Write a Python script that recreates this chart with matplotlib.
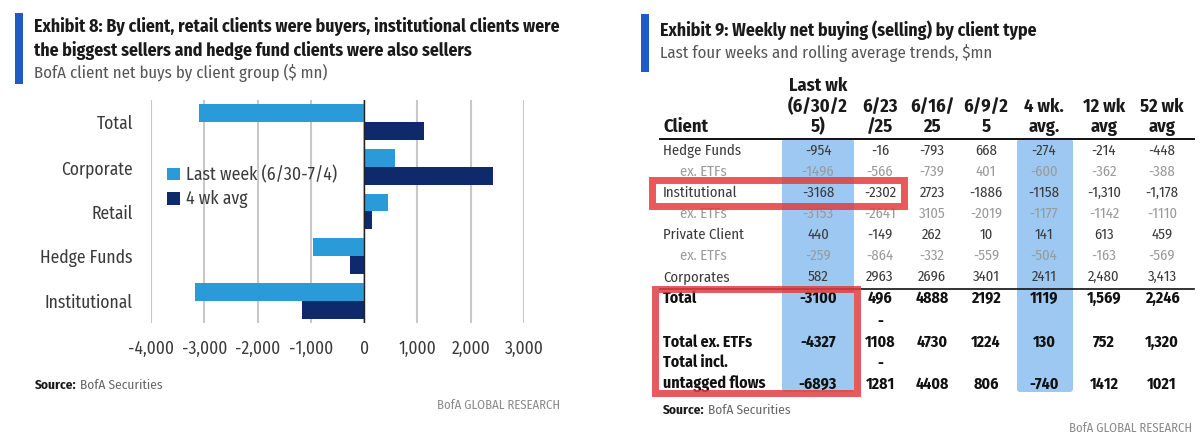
import matplotlib
matplotlib.use('Agg')
import matplotlib.pyplot as plt
from matplotlib.patches import Rectangle, FancyBboxPatch

plt.rcParams['font.family'] = ['Fira Sans Condensed', 'Roboto Condensed', 'DejaVu Sans']

# ---- left chart data ----
groups = ['Total', 'Corporate', 'Retail', 'Hedge Funds', 'Institutional']
last_week = [-3100, 582, 440, -954, -3168]
four_wk_avg = [1119, 2411, 141, -274, -1158]
x_ticks = [-4000, -3000, -2000, -1000, 0, 1000, 2000, 3000]

# ---- right table data ----
col_headers = ['Last wk\n(6/30/2\n5)', '6/23\n/25', '6/16/\n25', '6/9/2\n5', '4 wk.\navg.', '12 wk\navg', '52 wk\navg']
row_labels = ['Hedge Funds', 'ex. ETFs', 'Institutional', 'ex. ETFs', 'Private Client', 'ex. ETFs', 'Corporates']
hedge = ['-954', '-16', '-793', '668', '-274', '-214', '-448']
hedge_ex = ['-1496', '-566', '-739', '401', '-600', '-362', '-388']
inst = ['-3168', '-2302', '2723', '-1886', '-1158', '-1,310', '-1,178']
inst_ex = ['-3153', '-2641', '3105', '-2019', '-1177', '-1142', '-1110']
private = ['440', '-149', '262', '10', '141', '613', '459']
private_ex = ['-259', '-864', '-332', '-559', '-504', '-163', '-569']
corp = ['582', '2963', '2696', '3401', '2411', '2,480', '3,413']
total_labels = ['Total', 'Total ex. ETFs', 'Total incl.\nuntagged flows']
total = ['-3100', '496', '4888', '2192', '1119', '1,569', '2,246']
total_ex = ['-4327', '-1108', '4730', '1224', '130', '752', '1,320']
total_untagged = ['-6893', '-1281', '4408', '806', '-740', '1412', '1021']

LIGHT = '#2a9bd8'
NAVY = '#0e2a6b'
ACCENT = '#1f5bc6'
HILITE = '#9dc8f2'
RED = '#e23c40'
DARK = '#1a1a1a'
TXT = '#3a3a3a'

W, H = 1200, 441
fig = plt.figure(figsize=(W / 100, H / 100), dpi=100)
renderer = fig.canvas.get_renderer()


def size_for(s, width, weight='normal'):
    t = fig.text(0, 0, s, fontsize=10, fontweight=weight)
    w = t.get_window_extent(renderer).width
    t.remove()
    return 10 * width / w


# font sizes fitted to the widths measured on the reference
f_title = size_for('Exhibit 8: By client, retail clients were buyers, institutional clients were', 526, 'bold')
f_sub = size_for('BofA client net buys by client group ($ mn)', 292)
f_ytick = size_for('Institutional', 88)
f_xtick = size_for('-4,000', 46)
f_leg = size_for('Last week (6/30-7/4)', 151)
f_src = size_for('Source: BofA Securities', 126)
f_body = size_for('Institutional', 74)
f_head = size_for('(6/30/2', 60, 'bold')
f_tot = size_for('Total ex. ETFs', 89, 'bold')


def source(x, y):
    t = cv.text(x, y, 'Source:', fontsize=f_src, fontweight='bold', color=DARK, va='center')
    w = t.get_window_extent(renderer).width
    cv.text(x + w + 3, y, 'BofA Securities', fontsize=f_src, color='#666666', va='center')


# overlay canvas in pixel coordinates for titles / table
cv = fig.add_axes([0, 0, 1, 1])
cv.set_xlim(0, W)
cv.set_ylim(H, 0)
cv.axis('off')

# ---------- left panel ----------
cv.add_patch(Rectangle((15, 13), 8, 71, color=ACCENT, lw=0))
cv.text(34, 27, 'Exhibit 8: By client, retail clients were buyers, institutional clients were',
        fontsize=f_title, fontweight='bold', color=DARK, va='center')
cv.text(34, 50, 'the biggest sellers and hedge fund clients were also sellers',
        fontsize=f_title, fontweight='bold', color=DARK, va='center')
cv.text(34, 73, 'BofA client net buys by client group ($ mn)', fontsize=f_sub, color='#555555', va='center')

ax = fig.add_axes([151 / W, 1 - 323 / H, 373 / W, 223 / H])
y = list(range(len(groups)))
ax.barh([v - 0.2 for v in y], last_week, height=0.4, color=LIGHT, label='Last week (6/30-7/4)', zorder=3)
ax.barh([v + 0.2 for v in y], four_wk_avg, height=0.4, color=NAVY, label='4 wk avg', zorder=3)
ax.set_xlim(-4000, 3000)
ax.set_ylim(len(groups) - 0.5, -0.5)
ax.set_xticks(x_ticks)
ax.set_xticklabels([f'{t:,}' for t in x_ticks], fontsize=f_xtick, color=TXT)
ax.set_yticks(y)
ax.set_yticklabels(groups, fontsize=f_ytick, color=TXT)
ax.tick_params(length=0, pad=13, axis='y')
ax.tick_params(length=0, pad=12, axis='x')
ax.grid(axis='x', color='#c8c8c8', lw=1.5, zorder=0)
ax.axvline(0, color='#222222', lw=1, zorder=4)
for s in ax.spines.values():
    s.set_visible(False)
ax.patch.set_alpha(0)
leg_px = f_leg * 100 / 72
ax.legend(loc='upper left', bbox_to_anchor=(163 / W, 1 - 162 / H), bbox_transform=fig.transFigure,
          frameon=False, fontsize=f_leg, handlelength=0.75, handleheight=0.75, handletextpad=0.35,
          labelspacing=(24 - leg_px) / leg_px, labelcolor=TXT, borderaxespad=0, borderpad=0.2)

source(35, 385)
cv.text(560, 405, 'BofA GLOBAL RESEARCH', fontsize=f_src * 0.95, color='#8a8a8a', va='center', ha='right')

# ---------- right panel ----------
cv.add_patch(Rectangle((641, 14), 8, 58, color=ACCENT, lw=0))
cv.text(660, 30, 'Exhibit 9: Weekly net buying (selling) by client type',
        fontsize=f_title, fontweight='bold', color=DARK, va='center')
cv.text(660, 53, 'Last four weeks and rolling average trends, $mn', fontsize=f_sub, color='#555555', va='center')

col_x = [818, 880, 932, 986, 1044, 1104, 1162]
tbl_left, tbl_right = 660, 1194
header_rule = 139
row_top, row_step = 151, 21

# highlighted columns
for x0, x1 in [(782, 854), (1017, 1073)]:
    cv.add_patch(FancyBboxPatch((x0, header_rule), x1 - x0, 392 - header_rule,
                                boxstyle='round,pad=0,rounding_size=3', color=HILITE, lw=0, zorder=1))

cv.text(663, 127, 'Client', fontsize=f_head, fontweight='bold', color=DARK, va='center', zorder=3)
for cx, hdr in zip(col_x, col_headers):
    parts = hdr.split('\n')
    for k, ln in enumerate(parts):
        cv.text(cx, 127 - (len(parts) - 1 - k) * 20.5, ln, fontsize=f_head, fontweight='bold',
                color=DARK, ha='center', va='center', zorder=3)
cv.plot([tbl_left, tbl_right], [header_rule, header_rule], color='#111111', lw=1.4, zorder=3)

body = [hedge, hedge_ex, inst, inst_ex, private, private_ex, corp]
for ri, (lab, vals) in enumerate(zip(row_labels, body)):
    yy = row_top + ri * row_step
    sub = lab.startswith('ex.')
    col = '#9a9a9a' if sub else '#3a3a3a'
    cv.text(680 if sub else 663, yy, lab, fontsize=f_body, color=col, va='center', zorder=3)
    for cx, v in zip(col_x, vals):
        cv.text(cx, yy, v, fontsize=f_body, color=col, ha='center', va='center', zorder=3)

cv.plot([tbl_left, tbl_right], [289, 289], color='#111111', lw=1.2, zorder=3)

total_y = [298, 342, 384]
for lab, vals, yy in zip(total_labels, [total, total_ex, total_untagged], total_y):
    lines = lab.split('\n')
    for k, ln in enumerate(lines):
        cv.text(663, yy - (len(lines) - 1 - k) * 22, ln, fontsize=f_tot, fontweight='bold',
                color='#111111', va='center', zorder=3)
    for ci, (cx, v) in enumerate(zip(col_x, vals)):
        if ci == 1 and v.startswith('-') and len(v) > 4:
            # narrow column: minus sign wraps onto the line above
            cv.text(cx, yy - 21, '-', fontsize=f_tot, fontweight='bold', color='#111111',
                    ha='center', va='center', zorder=3)
            v = v[1:]
        cv.text(cx, yy, v, fontsize=f_tot, fontweight='bold', color='#111111', ha='center', va='center', zorder=3)

# red call-out boxes
cv.add_patch(Rectangle((652, 180), 904 - 652, 26, fill=False, ec=RED, lw=5, alpha=0.85, zorder=4))
cv.add_patch(Rectangle((655, 289), 857 - 655, 393 - 289, fill=False, ec=RED, lw=5, alpha=0.85, zorder=4))

source(663, 410)
cv.text(1192, 428, 'BofA GLOBAL RESEARCH', fontsize=f_src * 0.95, color='#8a8a8a', va='center', ha='right')

fig.savefig('out.png', dpi=100)
